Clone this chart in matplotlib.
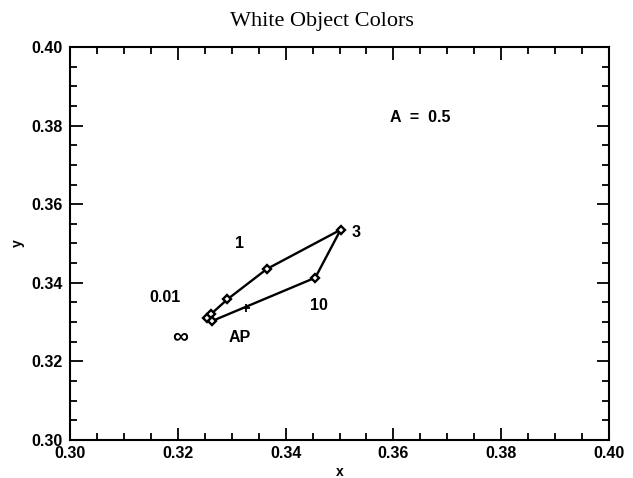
import numpy as np
import matplotlib
matplotlib.use("Agg")
import matplotlib.pyplot as plt
from matplotlib.ticker import MultipleLocator

# chromaticity path of the white object colors
path_x = [0.3255, 0.3262, 0.3292, 0.3365, 0.3502, 0.3455, 0.3264]
path_y = [0.3311, 0.3321, 0.3358, 0.3435, 0.3535, 0.3413, 0.3303]

# AP point (plus sign)
ap_x = [0.3327]
ap_y = [0.3335]

# annotation labels
label_text = ["1", "3", "0.01", "10", "AP", "\u221e", "A  =  0.5"]
label_x = [0.3315, 0.3530, 0.3176, 0.3462, 0.3315, 0.3204, 0.3650]
label_y = [0.3500, 0.3528, 0.3363, 0.3343, 0.3260, 0.3262, 0.3820]
label_size = [11.5, 11.5, 11.5, 11.5, 11.5, 16, 11.5]

plt.rcParams['font.family'] = ['Liberation Sans', 'DejaVu Sans']
plt.rcParams['font.weight'] = 'bold'

fig = plt.figure(figsize=(6.33, 4.78), dpi=100)
ax = fig.add_axes([0.1106, 0.0795, 0.8516, 0.8222])

ax.plot(path_x, path_y, color='black', linewidth=1.7, marker='D',
        markersize=4.5, markerfacecolor='white', markeredgecolor='black',
        markeredgewidth=1.7)
ax.plot(ap_x, ap_y, linestyle='none', marker='+', color='black',
        markersize=6, markeredgewidth=1.3)

for t, x, y, fs in zip(label_text, label_x, label_y, label_size):
    ax.text(x, y, t, ha='center', va='center', fontsize=fs,
            fontweight='bold', color='black')

ax.set_xlim(0.30, 0.40)
ax.set_ylim(0.30, 0.40)
ax.xaxis.set_major_locator(MultipleLocator(0.02))
ax.yaxis.set_major_locator(MultipleLocator(0.02))
ax.xaxis.set_minor_locator(MultipleLocator(0.005))
ax.yaxis.set_minor_locator(MultipleLocator(0.005))
ax.xaxis.set_major_formatter(plt.FormatStrFormatter('%.2f'))
ax.yaxis.set_major_formatter(plt.FormatStrFormatter('%.2f'))
ax.tick_params(which='both', direction='in', top=True, right=True,
               labelsize=11.5, width=1.3)
ax.tick_params(axis='x', which='both', pad=4)
ax.tick_params(axis='y', which='both', pad=5)
ax.tick_params(which='major', length=9)
ax.tick_params(which='minor', length=5)
for s in ax.spines.values():
    s.set_linewidth(1.5)

ax.set_xlabel('x', fontsize=10, fontweight='bold', labelpad=3)
ax.set_ylabel('y', fontsize=10, fontweight='bold', labelpad=5)
fig.text(0.509, 0.956, 'White Object Colors', ha='center', va='center',
         fontsize=16, fontweight='normal', family='Liberation Serif')

fig.savefig('out.png', dpi=100)
